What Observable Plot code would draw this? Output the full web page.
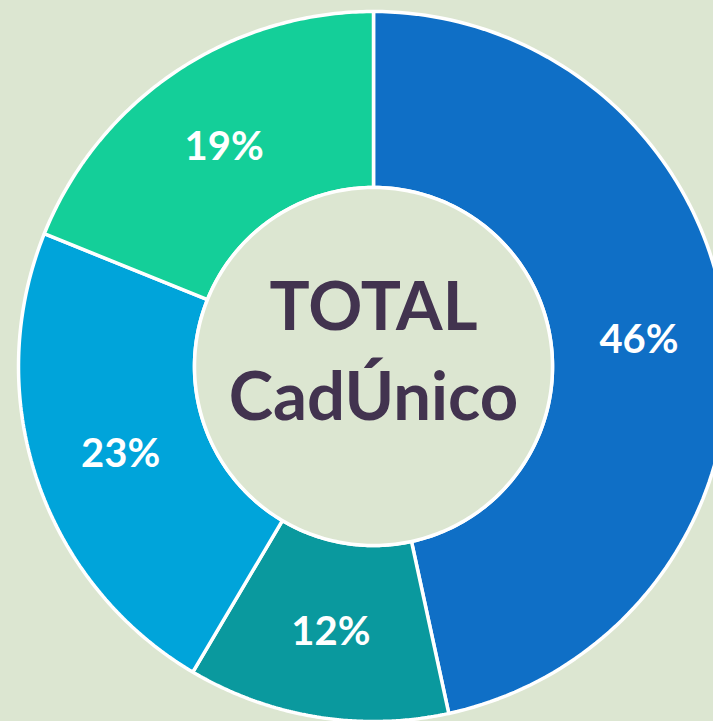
<!DOCTYPE html>
<html>
<head>
<meta charset="utf-8">
<script src="https://cdn.jsdelivr.net/npm/d3@7"></script>
<script src="https://cdn.jsdelivr.net/npm/@observablehq/plot@0.6"></script>
<style>
  html, body { margin: 0; padding: 0; background: #DCE6D1; overflow: hidden; }
  svg { display: block; }
</style>
</head>
<body>
<div id="chart"></div>
<script>
// Data
const categories = ["s1", "s2", "s3", "s4"];
const values = [46.6, 11.9, 22.6, 18.9];
const labels = ["46%", "12%", "23%", "19%"];
const colors = ["#0F6FC6", "#0A999E", "#00A4DA", "#14CF99"];
const centerLines = ["TOTAL", "CadÚnico"];

const innerR = 179 / 355;
const pie = d3.pie().sort(null).value(d => d.value)(categories.map((k, i) => ({k, value: values[i], label: labels[i]})));

const rows = [];
for (const a of pie) {
  const n = 120;
  for (let j = 0; j <= n; j++) {
    const t = a.startAngle + (a.endAngle - a.startAngle) * j / n;
    rows.push({k: a.data.k, x: Math.sin(t), y: Math.cos(t)});
  }
  for (let j = n; j >= 0; j--) {
    const t = a.startAngle + (a.endAngle - a.startAngle) * j / n;
    rows.push({k: a.data.k, x: innerR * Math.sin(t), y: innerR * Math.cos(t)});
  }
}
const circle = d3.range(0, 361).map(i => ({x: innerR * Math.sin(i * Math.PI / 180), y: innerR * Math.cos(i * Math.PI / 180)}));
const mid = (1 + innerR) / 2;
const labelRows = pie.map(a => {
  const t = (a.startAngle + a.endAngle) / 2;
  return {x: mid * Math.sin(t), y: mid * Math.cos(t), label: a.data.label};
});

const chart = Plot.plot({
  width: 713,
  height: 721,
  margin: 0,
  x: {domain: [-1, 1], range: [373 - 355, 373 + 355], axis: null},
  y: {domain: [-1, 1], range: [366 + 355, 366 - 355], axis: null},
  color: {domain: categories, range: colors},
  style: {background: "#DCE6D1", fontFamily: "Lato, 'Open Sans', sans-serif"},
  marks: [
    Plot.line(rows, {x: "x", y: "y", z: "k", fill: "k", stroke: "white", strokeWidth: 3.5, curve: "linear-closed", strokeLinejoin: "miter"}),
    Plot.line(circle, {x: "x", y: "y", fill: "#DCE6D1", stroke: "white", strokeWidth: 3.5, curve: "linear-closed"}),
    Plot.text(labelRows, {x: "x", y: "y", text: "label", fill: "white", fontSize: 40, fontWeight: "bold", dy: 2}),
    Plot.text([centerLines.join("\n")], {x: () => 0, y: () => 0, text: d => d, fill: "#42334F", fontSize: 67, fontWeight: "bold", lineHeight: 1.33, dy: -20})
  ]
});
document.getElementById("chart").appendChild(chart);
</script>
</body>
</html>
